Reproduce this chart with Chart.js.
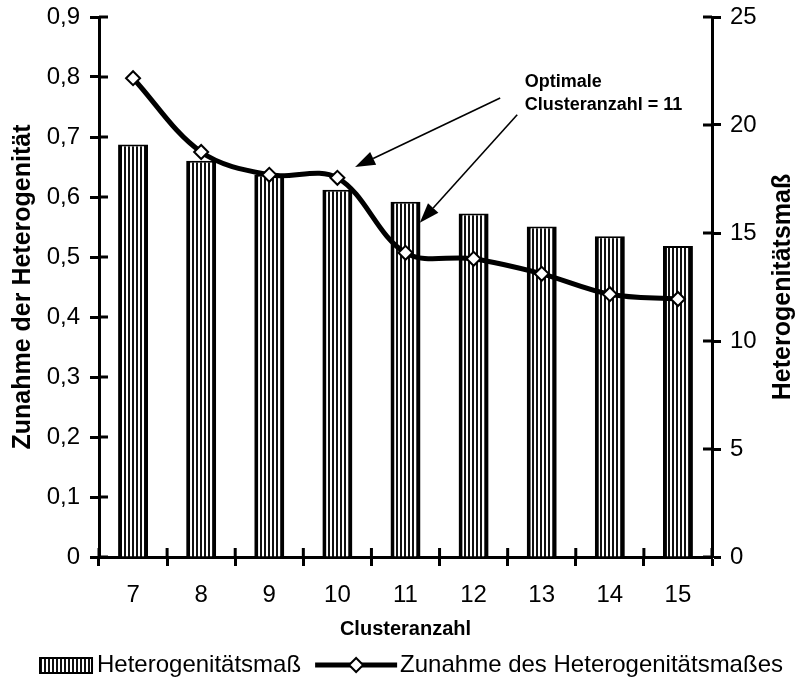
<!DOCTYPE html>
<html>
<head>
<meta charset="utf-8">
<script src="https://cdn.jsdelivr.net/npm/chart.js@4.4.1/dist/chart.umd.min.js"></script>
<style>
  html, body { margin: 0; padding: 0; background: #fff; }
  #wrap { width: 801px; height: 683px; position: relative; }
</style>
</head>
<body>
<div id="wrap"><canvas id="myChart"></canvas></div>
<script>
// DATA
const clusterLabels = ['7', '8', '9', '10', '11', '12', '13', '14', '15'];
const heteroMass = [19.1, 18.35, 17.7, 17.0, 16.45, 15.9, 15.3, 14.85, 14.4];
const heteroIncrease = [0.798, 0.675, 0.637, 0.632, 0.507, 0.497, 0.472, 0.438, 0.43];
const barLabel = 'Heterogenitätsmaß';
const lineLabel = 'Zunahme des Heterogenitätsmaßes';
const leftTitle = 'Zunahme der Heterogenität';
const rightTitle = 'Heterogenitätsmaß';
const xTitle = 'Clusteranzahl';
const noteLines = ['Optimale', 'Clusteranzahl = 11'];

const FONT = '"Liberation Sans", Arial, sans-serif';
Chart.defaults.font.family = FONT;
Chart.defaults.color = '#000';

// striped fill for the bars
function stripes() {
    const c = document.createElement('canvas');
    c.width = 4;
    c.height = 4;
    const g = c.getContext('2d');
    g.fillStyle = '#fff';
    g.fillRect(0, 0, 4, 4);
    g.fillStyle = '#111';
    g.fillRect(0, 0, 2, 4);
    return g.createPattern(c, 'repeat');
}
const stripeFill = stripes();

function comma(v) {
    if (v === 0) return '0';
    return v.toFixed(1).replace('.', ',');
}

function diamond(ctx, x, y, r) {
    ctx.beginPath();
    ctx.moveTo(x, y - r);
    ctx.lineTo(x + r, y);
    ctx.lineTo(x, y + r);
    ctx.lineTo(x - r, y);
    ctx.closePath();
    ctx.fillStyle = '#fff';
    ctx.fill();
    ctx.lineWidth = 2;
    ctx.strokeStyle = '#000';
    ctx.stroke();
}

function arrow(ctx, x1, y1, x2, y2) {
    const ang = Math.atan2(y2 - y1, x2 - x1);
    const len = 20, half = 7;
    const bx = x2 - len * Math.cos(ang), by = y2 - len * Math.sin(ang);
    ctx.beginPath();
    ctx.moveTo(x1, y1);
    ctx.lineTo(bx, by);
    ctx.lineWidth = 1.6;
    ctx.strokeStyle = '#000';
    ctx.stroke();
    ctx.beginPath();
    ctx.moveTo(x2, y2);
    ctx.lineTo(bx + half * Math.sin(ang), by - half * Math.cos(ang));
    ctx.lineTo(bx - half * Math.sin(ang), by + half * Math.cos(ang));
    ctx.closePath();
    ctx.fillStyle = '#000';
    ctx.fill();
}

// ticks crossing the axes, right title, note, legend
const extras = {
    id: 'extras',
    afterDraw(chart) {
        const ctx = chart.ctx;
        const a = chart.chartArea;
        const x = chart.scales.x, y = chart.scales.y, y1 = chart.scales.y1;
        ctx.save();
        ctx.strokeStyle = '#000';
        ctx.lineWidth = 3;
        ctx.beginPath();
        y.ticks.forEach(t => {
            const py = y.getPixelForValue(t.value);
            ctx.moveTo(a.left, py); ctx.lineTo(a.left + 9, py);
        });
        y1.ticks.forEach(t => {
            const py = y1.getPixelForValue(t.value);
            ctx.moveTo(a.right - 9, py); ctx.lineTo(a.right, py);
        });
        for (let i = 0; i <= clusterLabels.length; i++) {
            const px = x.getPixelForValue(i - 0.5);
            ctx.moveTo(px, a.bottom - 9); ctx.lineTo(px, a.bottom);
        }
        ctx.stroke();

        // right axis title, reading upward
        ctx.save();
        ctx.translate(783, (a.top + a.bottom) / 2);
        ctx.rotate(-Math.PI / 2);
        ctx.font = 'bold 25px ' + FONT;
        ctx.textAlign = 'center';
        ctx.textBaseline = 'middle';
        ctx.fillStyle = '#000';
        ctx.fillText(rightTitle, 0, 0);
        ctx.restore();

        // note with arrows
        ctx.font = 'bold 18px ' + FONT;
        ctx.fillStyle = '#000';
        ctx.textAlign = 'left';
        ctx.textBaseline = 'middle';
        const nx = x.getPixelForValue(5.75);
        ctx.fillText(noteLines[0], nx, y.getPixelForValue(0.792));
        ctx.fillText(noteLines[1], nx, y.getPixelForValue(0.753));
        arrow(ctx, x.getPixelForValue(5.39), y.getPixelForValue(0.765),
            x.getPixelForValue(3.26), y.getPixelForValue(0.65));
        arrow(ctx, x.getPixelForValue(5.64), y.getPixelForValue(0.737),
            x.getPixelForValue(4.21), y.getPixelForValue(0.557));

        // legend
        ctx.font = '24px ' + FONT;
        const w1 = ctx.measureText(barLabel).width;
        const w2 = ctx.measureText(lineLabel).width;
        const total = 52 + 5 + w1 + 12 + 82 + 3 + w2;
        let lx = (chart.width - total) / 2 + 10;
        const ly = 665;
        ctx.fillStyle = stripeFill;
        ctx.fillRect(lx, ly - 7, 52, 15);
        ctx.lineWidth = 2;
        ctx.strokeRect(lx, ly - 7, 52, 15);
        lx += 57;
        ctx.fillStyle = '#000';
        ctx.fillText(barLabel, lx, ly);
        lx += w1 + 14;
        ctx.beginPath();
        ctx.moveTo(lx, ly); ctx.lineTo(lx + 82, ly);
        ctx.lineWidth = 5;
        ctx.stroke();
        diamond(ctx, lx + 41, ly, 7);
        lx += 85;
        ctx.fillStyle = '#000';
        ctx.fillText(lineLabel, lx, ly);
        ctx.restore();
    }
};

const data = {
    labels: clusterLabels,
    datasets: [{
        type: 'line',
        label: lineLabel,
        data: heteroIncrease,
        yAxisID: 'y',
        order: 1,
        borderColor: '#000',
        borderWidth: 5,
        tension: 0.35,
        pointStyle: 'rectRot',
        pointRadius: 7,
        pointBackgroundColor: '#fff',
        pointBorderColor: '#000',
        pointBorderWidth: 2
    }, {
        type: 'bar',
        label: barLabel,
        data: heteroMass,
        yAxisID: 'y1',
        order: 2,
        backgroundColor: stripeFill,
        borderColor: '#000',
        borderWidth: { left: 4, right: 4, top: 2, bottom: 0 },
        borderSkipped: false,
        categoryPercentage: 1,
        barPercentage: 0.44
    }]
};

function noPad(s) {
    s.paddingTop = 0;
    s.paddingBottom = 0;
}

const config = {
    data: data,
    plugins: [extras],
    options: {
        responsive: true,
        maintainAspectRatio: false,
        animation: false,
        events: [],
        layout: { padding: { left: 0, right: 0, top: 17, bottom: 38 } },
        plugins: { legend: { display: false }, tooltip: { enabled: false } },
        scales: {
            x: {
                offset: true,
                grid: { offset: true, drawOnChartArea: false, tickLength: 9, tickWidth: 3, tickColor: '#000' },
                border: { color: '#000', width: 3 },
                ticks: { font: { size: 24 }, color: '#000', padding: 15 },
                title: { display: true, text: xTitle, font: { size: 20, weight: 'bold' }, color: '#000' },
                afterFit(s) { s.height = 88; }
            },
            y: {
                position: 'left',
                min: 0,
                max: 0.9,
                ticks: { stepSize: 0.1, font: { size: 24 }, color: '#000', padding: 10, callback: comma },
                grid: { drawOnChartArea: false, tickLength: 9, tickWidth: 3, tickColor: '#000' },
                border: { color: '#000', width: 3 },
                title: { display: true, text: leftTitle, font: { size: 25, weight: 'bold' }, color: '#000', padding: { top: 8, bottom: 4 } },
                afterFit(s) { s.width = 99; noPad(s); }
            },
            y1: {
                position: 'right',
                min: 0,
                max: 25,
                ticks: { stepSize: 5, font: { size: 24 }, color: '#000', padding: 9 },
                grid: { drawOnChartArea: false, tickLength: 9, tickWidth: 3, tickColor: '#000' },
                border: { color: '#000', width: 3 },
                afterFit(s) { s.width = 89; noPad(s); }
            }
        }
    }
};

const myChart = new Chart(document.getElementById('myChart'), config);
</script>
</body>
</html>
